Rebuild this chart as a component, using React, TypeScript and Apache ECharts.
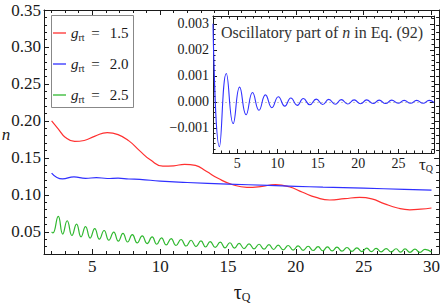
import React, { useEffect, useRef } from 'react';
import * as echarts from 'echarts';

// ---- data ----
const redX = [2.0, 2.5, 3.0, 3.7, 4.4, 5.2, 6.1, 6.9, 7.7, 8.5, 9.3, 10.2, 11.0, 11.8, 12.6, 13.4, 14.3, 15.3, 16.4, 17.4, 18.5, 19.5, 20.5, 21.5, 22.5, 23.6, 24.7, 25.6, 26.5, 27.5, 28.4, 29.2, 30.0];
const redY = [0.200, 0.189, 0.178, 0.1722, 0.1735, 0.1795, 0.1842, 0.1815, 0.1730, 0.1595, 0.1470, 0.1388, 0.1393, 0.1413, 0.1398, 0.1318, 0.1220, 0.1140, 0.1102, 0.1112, 0.1138, 0.1110, 0.1035, 0.0965, 0.0930, 0.0948, 0.0965, 0.0945, 0.0882, 0.0822, 0.0798, 0.0806, 0.0822];

const blueX = [2.0, 2.8, 3.65, 4.5, 5.3, 6.1, 6.9, 7.7, 8.5, 10.0, 12.0, 15.0, 18.0, 20.0, 22.0, 25.0, 28.0, 30.0];
const blueY = [0.1295, 0.1215, 0.1243, 0.1222, 0.1234, 0.1221, 0.1226, 0.1214, 0.1210, 0.1185, 0.1167, 0.1146, 0.1127, 0.1115, 0.1104, 0.1090, 0.1075, 0.1065];

const greenX = [2.0, 2.1, 2.49, 2.82, 3.15, 3.5, 3.84, 4.17, 4.5, 4.84, 5.18, 5.52, 5.87, 6.22, 6.58, 6.92, 7.26, 7.6, 7.95, 8.31, 8.68, 9.04, 9.41, 9.75, 10.1, 10.45, 10.81, 11.17, 11.54, 11.91, 12.28, 12.64, 13.01, 13.35, 13.69, 14.06, 14.43, 14.78, 15.14, 15.48, 15.82, 16.18, 16.55, 16.92, 17.29, 17.65, 18.02, 18.36, 18.7, 19.07, 19.44, 19.8, 20.17, 20.54, 20.91, 21.27, 21.64, 21.98, 22.33, 22.68, 23.03, 23.4, 23.77, 24.13, 24.5, 24.86, 25.23, 25.57, 25.92, 26.29, 26.66, 27.02, 27.39, 27.72, 28.05, 28.41, 28.78, 29.15, 29.52, 30.0];
const greenY = [0.0500, 0.0485, 0.0710, 0.0470, 0.0650, 0.0450, 0.0605, 0.0432, 0.0570, 0.0416, 0.0542, 0.0401, 0.0518, 0.0387, 0.0497, 0.0374, 0.0478, 0.0362, 0.0461, 0.0351, 0.0446, 0.0341, 0.0432, 0.0332, 0.0419, 0.0323, 0.0407, 0.0315, 0.0396, 0.0308, 0.0386, 0.0301, 0.0377, 0.0295, 0.0368, 0.0289, 0.0360, 0.0284, 0.0352, 0.0279, 0.0345, 0.0274, 0.0338, 0.0269, 0.0332, 0.0265, 0.0326, 0.0261, 0.0320, 0.0257, 0.0315, 0.0253, 0.0310, 0.0250, 0.0305, 0.0247, 0.0300, 0.0244, 0.0296, 0.0241, 0.0292, 0.0238, 0.0288, 0.0236, 0.0284, 0.0233, 0.0280, 0.0231, 0.0277, 0.0229, 0.0274, 0.0227, 0.0271, 0.0225, 0.0268, 0.0223, 0.0265, 0.0221, 0.0262, 0.0226];

const insetX = [2.0, 2.8, 3.65, 4.5, 5.3, 6.1, 6.9, 7.7, 8.5, 9.3, 10.1, 10.9, 11.65, 12.45, 13.2, 14.0, 14.8, 15.6, 16.35, 17.15, 17.9, 18.7, 19.5, 20.3, 21.05, 21.85, 22.6, 23.4, 24.15, 24.95, 25.7, 26.5, 27.25, 28.05, 28.8, 29.4];
const insetY = [0.0030, -0.00172, 0.00109, -0.00083, 0.00057, -0.00049, 0.00036, -0.00032, 0.00027, -0.00022, 0.00020, -0.00016, 0.00015, -0.00013, 0.00013, -0.00011, 0.00011, -0.00010, 0.00010, -0.00009, 0.00009, -0.00008, 0.00008, -0.00007, 0.00008, -0.00006, 0.00007, -0.00006, 0.00007, -0.00005, 0.00006, -0.00005, 0.00006, -0.00005, 0.00006, -0.00002];

const legendNames = ['1.5', '2.0', '2.5'];
const seriesColors = ['#ff3030', '#3030ff', '#30b830'];

const mainXMajor = [5, 10, 15, 20, 25, 30];
const mainXMinor = [2, 3, 4, 6, 7, 8, 9, 11, 12, 13, 14, 16, 17, 18, 19, 21, 22, 23, 24, 26, 27, 28, 29];
const mainYMajor = [0.05, 0.1, 0.15, 0.2, 0.25, 0.3, 0.35];
const mainYMinor = [0.02, 0.03, 0.04, 0.06, 0.07, 0.08, 0.09, 0.11, 0.12, 0.13, 0.14, 0.16, 0.17, 0.18, 0.19, 0.21, 0.22, 0.23, 0.24, 0.26, 0.27, 0.28, 0.29, 0.31, 0.32, 0.33, 0.34];
const insetXMajor = [5, 10, 15, 20, 25];
const insetXMinor = [3, 4, 6, 7, 8, 9, 11, 12, 13, 14, 16, 17, 18, 19, 21, 22, 23, 24, 26, 27, 28, 29];
const insetYMajor = [-0.001, 0, 0.001, 0.002, 0.003];
const insetYMinor = [-0.0018, -0.0016, -0.0014, -0.0012, -0.0008, -0.0006, -0.0004, -0.0002, 0.0002, 0.0004, 0.0006, 0.0008, 0.0012, 0.0014, 0.0016, 0.0018, 0.0022, 0.0024, 0.0026, 0.0028, 0.0032];

// ---- layout ----
const FONT = '"Liberation Serif", "Times New Roman", serif';
const INK = '#1a1a1a';
const MAIN = { left: 44, top: 10, width: 397, height: 244 };
const INSET = { left: 213, top: 16, width: 221, height: 137 };
const LEGEND = { x: 51.5, y: 15.5, w: 82, h: 92, first: 33, step: 31 };
const MAIN_X = [1.44, 30.56];
const MAIN_Y = [0.02, 0.35];
const INSET_XR = [2, 29.4];
const INSET_YR = [-0.00196, 0.0033];

type AxOpts = { labels?: number[]; fmt?: (v: number) => string; fontSize?: number; margin?: number; line?: boolean; z?: number };

function axis(grid: number, position: string, range: number[], ticks: number[], len: number, o: AxOpts) {
  return {
    type: 'value',
    gridIndex: grid,
    position,
    min: range[0],
    max: range[1],
    z: o.z ?? 1,
    axisLine: { show: !!o.line, onZero: false, lineStyle: { color: INK, width: 1 } },
    axisTick: { show: true, inside: true, length: len, customValues: ticks, lineStyle: { color: INK, width: 1 } },
    axisLabel: o.labels
      ? { show: true, customValues: o.labels, formatter: o.fmt, fontFamily: FONT, fontSize: o.fontSize, color: INK, margin: o.margin }
      : { show: false },
    splitLine: { show: false },
    minorTick: { show: false },
    minorSplitLine: { show: false },
  };
}

const fmt2 = (v: number) => v.toFixed(2);
const fmt3 = (v: number) => (v < 0 ? '\u2212' + Math.abs(v).toFixed(3) : v.toFixed(3));
const fmtInt = (v: number) => String(Math.round(v));

const pairs = (xs: number[], ys: number[]) => xs.map((x, i) => [x, ys[i]]);

export default function App() {
  const ref = useRef<HTMLDivElement>(null);
  useEffect(() => {
    if (!ref.current) return;
    const chart = echarts.init(ref.current, undefined, { renderer: 'svg' });
    const IZ = 6;
    const xAxes = [
      axis(0, 'bottom', MAIN_X, mainXMajor, 5, { labels: mainXMajor, fmt: fmtInt, fontSize: 17, margin: 4, line: true }),
      axis(0, 'bottom', MAIN_X, mainXMinor, 3, {}),
      axis(0, 'top', MAIN_X, mainXMajor, 5, { line: true }),
      axis(0, 'top', MAIN_X, mainXMinor, 3, {}),
      axis(1, 'bottom', INSET_XR, insetXMajor, 4, { labels: insetXMajor, fmt: fmtInt, fontSize: 14, margin: 3, line: true, z: IZ }),
      axis(1, 'bottom', INSET_XR, insetXMinor, 2.5, { z: IZ }),
      axis(1, 'top', INSET_XR, insetXMajor, 4, { line: true, z: IZ }),
      axis(1, 'top', INSET_XR, insetXMinor, 2.5, { z: IZ }),
    ];
    const yAxes = [
      axis(0, 'left', MAIN_Y, mainYMajor, 5, { labels: mainYMajor, fmt: fmt2, fontSize: 17, margin: 3, line: true }),
      axis(0, 'left', MAIN_Y, mainYMinor, 3, {}),
      axis(0, 'right', MAIN_Y, mainYMajor, 5, { line: true }),
      axis(0, 'right', MAIN_Y, mainYMinor, 3, {}),
      axis(1, 'left', INSET_YR, insetYMajor, 4, { labels: insetYMajor, fmt: fmt3, fontSize: 14, margin: 4, line: true, z: IZ }),
      axis(1, 'left', INSET_YR, insetYMinor, 2.5, { z: IZ }),
      axis(1, 'right', INSET_YR, insetYMajor, 4, { line: true, z: IZ }),
      axis(1, 'right', INSET_YR, insetYMinor, 2.5, { z: IZ }),
    ];
    const mainLine = (name: string, xs: number[], ys: number[], color: string) => ({
      type: 'line',
      name,
      xAxisIndex: 0,
      yAxisIndex: 0,
      data: pairs(xs, ys),
      smooth: 0.5,
      symbol: 'none',
      showSymbol: false,
      z: 2,
      lineStyle: { color, width: 1.2 },
      itemStyle: { color },
    });

    const legendGraphics: any[] = [
      {
        type: 'rect',
        z: 10,
        shape: { x: LEGEND.x, y: LEGEND.y, width: LEGEND.w, height: LEGEND.h },
        style: { fill: '#fff', stroke: '#888', lineWidth: 1 },
        silent: true,
      },
    ];
    legendNames.forEach((name, i) => {
      const cy = LEGEND.first + LEGEND.step * i;
      legendGraphics.push({
        type: 'line',
        z: 11,
        shape: { x1: 53, y1: cy, x2: 66, y2: cy },
        style: { stroke: seriesColors[i], lineWidth: 1.3 },
        silent: true,
      });
      legendGraphics.push({
        type: 'text',
        z: 11,
        x: 71,
        y: cy,
        style: {
          text: `{g|g}{s|rt}{e|=}{v|${name}}`,
          fontFamily: FONT,
          fontSize: 15,
          fill: INK,
          align: 'left',
          verticalAlign: 'middle',
          rich: {
            g: { fontFamily: FONT, fontSize: 15, fontStyle: 'italic', fill: INK, lineHeight: 18 },
            s: { fontFamily: FONT, fontSize: 10, fill: INK, lineHeight: 11, verticalAlign: 'bottom' },
            e: { fontFamily: FONT, fontSize: 15, fill: INK, width: 22, align: 'center', lineHeight: 18 },
            v: { fontFamily: FONT, fontSize: 15, fill: INK, width: 22, align: 'right', lineHeight: 18 },
          },
        },
      });
    });

    chart.setOption({
      animation: false,
      backgroundColor: '#fff',
      grid: [
        { ...MAIN, containLabel: false },
        { ...INSET, containLabel: false },
      ],
      xAxis: xAxes,
      yAxis: yAxes,
      graphic: [
        {
          type: 'rect',
          z: 5,
          shape: { x: INSET.left, y: INSET.top, width: INSET.width, height: INSET.height },
          style: { fill: '#fff', stroke: 'none' },
          silent: true,
        },
        ...legendGraphics,
        {
          type: 'text',
          z: 10,
          x: 221,
          y: 32,
          style: {
            text: 'Oscillatory part of {i|n} in Eq. (92)',
            fontFamily: FONT,
            fontSize: 16,
            fill: '#333',
            verticalAlign: 'middle',
            align: 'left',
            rich: { i: { fontFamily: FONT, fontSize: 16, fontStyle: 'italic', fill: '#333' } },
          },
        },
        {
          type: 'text',
          z: 10,
          x: 6,
          y: 134,
          style: { text: 'n', fontFamily: FONT, fontSize: 17, fontStyle: 'italic', fill: INK, align: 'center', verticalAlign: 'middle' },
        },
        {
          type: 'text',
          z: 10,
          x: 242,
          y: 292,
          style: {
            text: '{t|\u03c4}{q|Q}',
            fontFamily: FONT,
            fill: INK,
            align: 'center',
            verticalAlign: 'middle',
            rich: {
              t: { fontFamily: FONT, fontSize: 20, fill: INK, lineHeight: 22 },
              q: { fontFamily: FONT, fontSize: 12, fill: INK, lineHeight: 13, verticalAlign: 'bottom' },
            },
          },
        },
        {
          type: 'text',
          z: 10,
          x: 426,
          y: 164,
          style: {
            text: '{t|\u03c4}{q|Q}',
            fontFamily: FONT,
            fill: INK,
            align: 'center',
            verticalAlign: 'middle',
            rich: {
              t: { fontFamily: FONT, fontSize: 17, fill: INK, lineHeight: 18 },
              q: { fontFamily: FONT, fontSize: 10, fill: INK, lineHeight: 11, verticalAlign: 'bottom' },
            },
          },
        },
      ],
      series: [
        mainLine(legendNames[0], redX, redY, seriesColors[0]),
        mainLine(legendNames[1], blueX, blueY, seriesColors[1]),
        mainLine(legendNames[2], greenX, greenY, seriesColors[2]),
        {
          type: 'line',
          name: 'inset',
          xAxisIndex: 4,
          yAxisIndex: 4,
          data: pairs(insetX, insetY),
          smooth: 0.5,
          symbol: 'none',
          showSymbol: false,
          z: 8,
          lineStyle: { color: seriesColors[1], width: 1.1 },
          markLine: {
            silent: true,
            symbol: 'none',
            label: { show: false },
            lineStyle: { type: [2, 2], color: '#c8c8c8', width: 1 },
            data: [{ yAxis: 0 }],
          },
        },
      ],
    });
    return () => chart.dispose();
  }, []);
  return <div ref={ref} style={{ position: 'fixed', left: 0, top: 0, width: 443, height: 304 }} />;
}
